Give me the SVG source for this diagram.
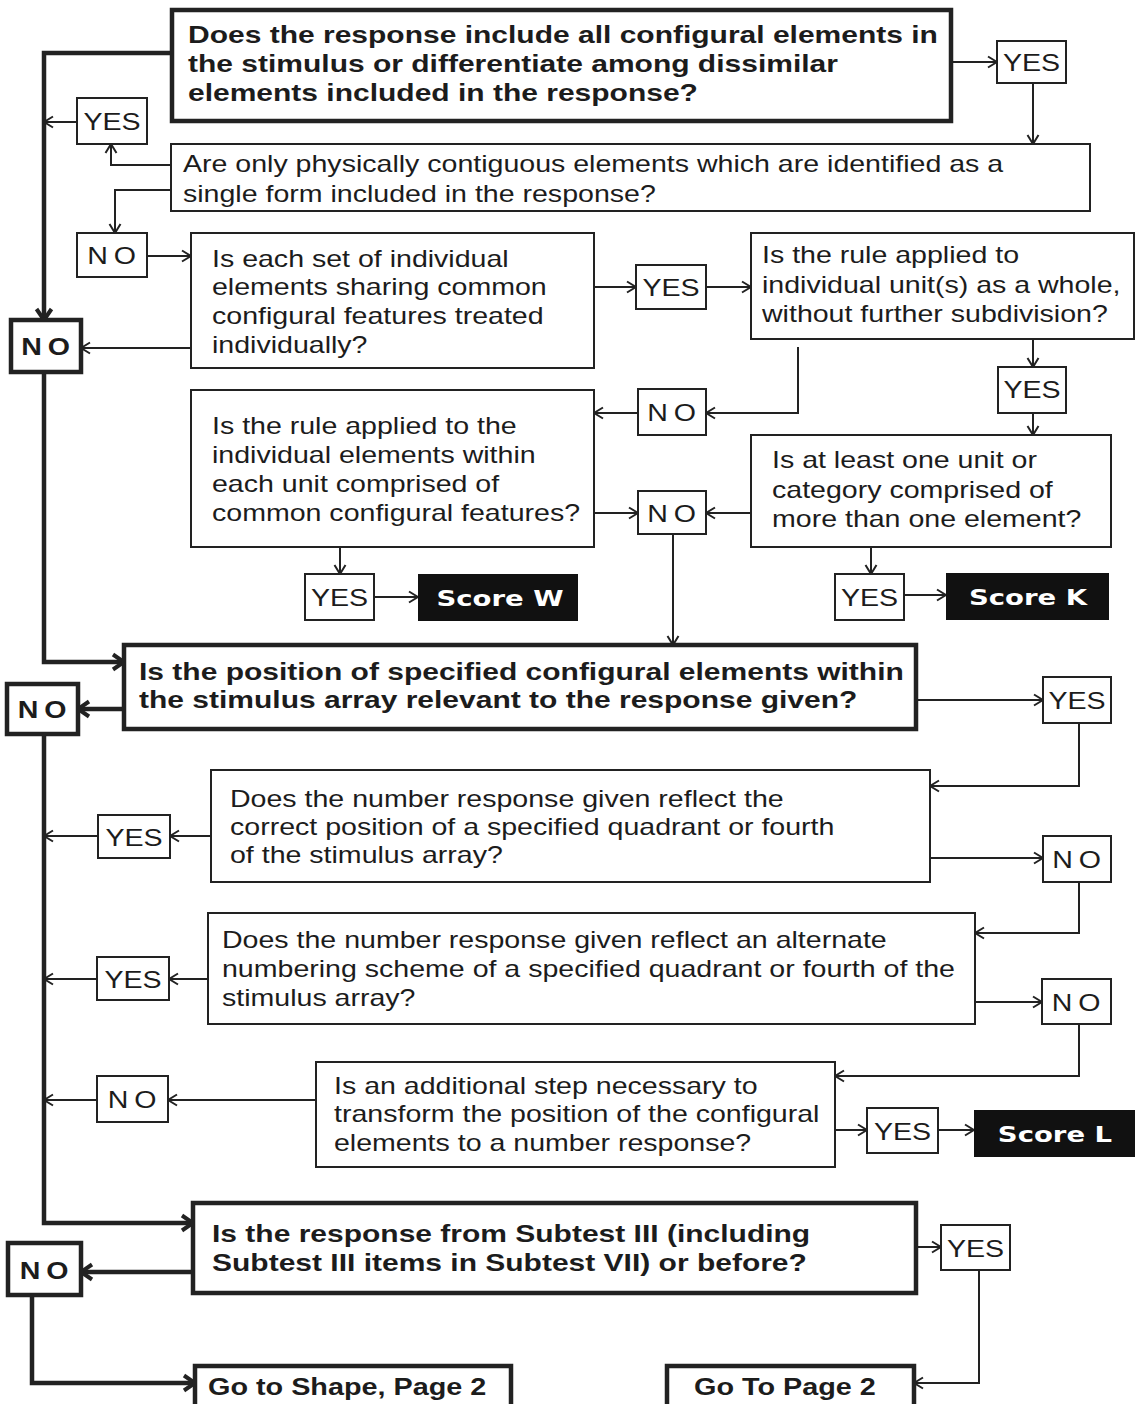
<svg xmlns="http://www.w3.org/2000/svg" width="1138" height="1404" viewBox="0 0 1138 1404">
  <style>
    .bg { fill: #ffffff; }
    .box { fill: #ffffff; stroke: #222; stroke-width: 2; }
    .boxb { fill: #ffffff; stroke: #222; stroke-width: 4.5; }
    .score { fill: #111; stroke: none; }
    .q { font-family: "Liberation Sans", Arial, Helvetica, sans-serif; font-size: 24px; fill: #1c1c1c; }
    .qb { font-family: "Liberation Sans", Arial, Helvetica, sans-serif; font-size: 24px; font-weight: bold; fill: #1c1c1c; }
    .lbl { font-family: "Liberation Sans", Arial, Helvetica, sans-serif; font-size: 24px; fill: #1c1c1c; text-anchor: middle; }
    .lblb { font-family: "Liberation Sans", Arial, Helvetica, sans-serif; font-size: 24px; font-weight: bold; fill: #1c1c1c; text-anchor: middle; }
    .st { font-family: "DejaVu Sans", "Liberation Sans", sans-serif; font-size: 22px; font-weight: bold; fill: #ffffff; text-anchor: middle; }
    .c { fill: none; stroke: #222; stroke-width: 2; marker-end: url(#ah); }
    .cb { fill: none; stroke: #222; stroke-width: 4.5; marker-end: url(#ahb); }
  </style>
  <defs>
    <marker id="ah" viewBox="0 0 12 14" refX="11" refY="7" markerWidth="12" markerHeight="14" markerUnits="userSpaceOnUse" orient="auto">
      <path d="M2,1.5 L11,7 L2,12.5" fill="none" stroke="#222" stroke-width="2"/>
    </marker>
    <marker id="ahb" viewBox="0 0 16 20" refX="14" refY="10" markerWidth="16" markerHeight="20" markerUnits="userSpaceOnUse" orient="auto">
      <path d="M3,2.5 L14,10 L3,17.5" fill="none" stroke="#222" stroke-width="4"/>
    </marker>
  </defs>

  <rect class="bg" x="0" y="0" width="1138" height="1404"/>

  <!-- connectors -->
  <g id="connectors">
    <path class="cb" d="M172,53 H44 V320"/>
    <path class="c" d="M951,62 H997"/>
    <path class="c" d="M1033,83 V144"/>
    <path class="c" d="M171,165 H111 V144"/>
    <path class="c" d="M77,122 H44"/>
    <path class="c" d="M171,190 H115 V233"/>
    <path class="c" d="M147,256 H191"/>
    <path class="c" d="M191,348 H81"/>
    <path class="c" d="M594,287 H636"/>
    <path class="c" d="M706,287 H751"/>
    <path class="c" d="M1033,339 V367"/>
    <path class="c" d="M1033,413 V435"/>
    <path class="c" d="M798,347 V413 H706"/>
    <path class="c" d="M638,413 H594"/>
    <path class="c" d="M594,513 H638"/>
    <path class="c" d="M751,513 H706"/>
    <path class="c" d="M673,534 V645"/>
    <path class="c" d="M340,547 V574"/>
    <path class="c" d="M374,597 H418"/>
    <path class="c" d="M871,547 V574"/>
    <path class="c" d="M904,595 H946"/>
    <path class="cb" d="M44,372 V662 H124"/>
    <path class="cb" d="M124,709 H78"/>
    <path class="c" d="M916,700 H1043"/>
    <path class="c" d="M1079,723 V786 H930"/>
    <path class="c" d="M211,836 H170"/>
    <path class="c" d="M98,836 H44"/>
    <path class="c" d="M930,858 H1043"/>
    <path class="c" d="M1079,882 V933 H975"/>
    <path class="c" d="M208,979 H169"/>
    <path class="c" d="M97,979 H44"/>
    <path class="c" d="M975,1002 H1042"/>
    <path class="c" d="M1079,1024 V1076 H835"/>
    <path class="c" d="M316,1100 H168"/>
    <path class="c" d="M97,1100 H44"/>
    <path class="c" d="M835,1130 H867"/>
    <path class="c" d="M938,1130 H974"/>
    <path class="cb" d="M44,734 V1223 H193"/>
    <path class="cb" d="M193,1272 H81"/>
    <path class="c" d="M916,1247 H941"/>
    <path class="c" d="M979,1270 V1383 H914"/>
    <path class="cb" d="M32,1295 V1383 H195"/>
  </g>

  <!-- question: all configural elements -->
  <g id="q-configural">
    <rect class="boxb" x="172" y="10" width="779" height="111"/>
    <g class="qb" transform="translate(188,0) scale(1.25,1)">
      <text y="43">Does the response include all configural elements in</text>
      <text y="72">the stimulus or differentiate among dissimilar</text>
      <text y="101">elements included in the response?</text>
    </g>
  </g>
  <g id="yes-1"><rect class="box" x="997" y="41" width="69" height="42"/><text class="lbl" transform="translate(1031.5,71) scale(1.19,1)">YES</text></g>

  <g id="q-contiguous">
    <rect class="box" x="171" y="144" width="919" height="67"/>
    <g class="q" transform="translate(183,0) scale(1.19,1)">
      <text y="172">Are only physically contiguous elements which are identified as a</text>
      <text y="202">single form included in the response?</text>
    </g>
  </g>
  <g id="yes-2"><rect class="box" x="77" y="98" width="70" height="46"/><text class="lbl" transform="translate(112,130) scale(1.19,1)">YES</text></g>
  <g id="no-2"><rect class="box" x="77" y="233" width="70" height="44"/><text class="lbl" letter-spacing="5" transform="translate(114.5,264) scale(1.19,1)">NO</text></g>

  <g id="q-each-set">
    <rect class="box" x="191" y="233" width="403" height="135"/>
    <g class="q" transform="translate(212,0) scale(1.19,1)">
      <text y="267">Is each set of individual</text>
      <text y="295">elements sharing common</text>
      <text y="324">configural features treated</text>
      <text y="353">individually?</text>
    </g>
  </g>
  <g id="no-main-1"><rect class="boxb" x="11" y="320" width="70" height="52"/><text class="lblb" letter-spacing="5" transform="translate(48.5,355) scale(1.19,1)">NO</text></g>
  <g id="yes-3"><rect class="box" x="636" y="265" width="70" height="44"/><text class="lbl" transform="translate(671,296) scale(1.19,1)">YES</text></g>

  <g id="q-unit-whole">
    <rect class="box" x="751" y="233" width="383" height="106"/>
    <g class="q" transform="translate(762,0) scale(1.19,1)">
      <text y="263">Is the rule applied to</text>
      <text y="293">individual unit(s) as a whole,</text>
      <text y="322">without further subdivision?</text>
    </g>
  </g>
  <g id="yes-4"><rect class="box" x="998" y="367" width="68" height="46"/><text class="lbl" transform="translate(1032,398) scale(1.19,1)">YES</text></g>
  <g id="no-4"><rect class="box" x="638" y="389" width="68" height="46"/><text class="lbl" letter-spacing="5" transform="translate(674.5,421) scale(1.19,1)">NO</text></g>

  <g id="q-elements-within">
    <rect class="box" x="191" y="390" width="403" height="157"/>
    <g class="q" transform="translate(212,0) scale(1.19,1)">
      <text y="434">Is the rule applied to the</text>
      <text y="463">individual elements within</text>
      <text y="492">each unit comprised of</text>
      <text y="521">common configural features?</text>
    </g>
  </g>

  <g id="q-one-unit">
    <rect class="box" x="751" y="435" width="360" height="112"/>
    <g class="q" transform="translate(772,0) scale(1.19,1)">
      <text y="468">Is at least one unit or</text>
      <text y="498">category comprised of</text>
      <text y="527">more than one element?</text>
    </g>
  </g>
  <g id="no-5"><rect class="box" x="638" y="491" width="68" height="43"/><text class="lbl" letter-spacing="5" transform="translate(674.5,522) scale(1.19,1)">NO</text></g>

  <g id="yes-6"><rect class="box" x="305" y="574" width="69" height="46"/><text class="lbl" transform="translate(339.5,606) scale(1.19,1)">YES</text></g>
  <g id="score-w"><rect class="score" x="418" y="574" width="160" height="47"/><text class="st" transform="translate(500,606) scale(1.25,1)">Score W</text></g>
  <g id="yes-5"><rect class="box" x="835" y="574" width="69" height="46"/><text class="lbl" transform="translate(869.5,606) scale(1.19,1)">YES</text></g>
  <g id="score-k"><rect class="score" x="946" y="573" width="163" height="47"/><text class="st" transform="translate(1028,605) scale(1.25,1)">Score K</text></g>

  <!-- question: position relevance -->
  <g id="q-position">
    <rect class="boxb" x="124" y="645" width="792" height="84"/>
    <g class="qb" transform="translate(139,0) scale(1.25,1)">
      <text y="680">Is the position of specified configural elements within</text>
      <text y="708">the stimulus array relevant to the response given?</text>
    </g>
  </g>
  <g id="no-main-2"><rect class="boxb" x="7" y="684" width="71" height="50"/><text class="lblb" letter-spacing="5" transform="translate(45,718) scale(1.19,1)">NO</text></g>
  <g id="yes-7"><rect class="box" x="1043" y="677" width="68" height="46"/><text class="lbl" transform="translate(1077,709) scale(1.19,1)">YES</text></g>

  <g id="q-correct-position">
    <rect class="box" x="211" y="770" width="719" height="112"/>
    <g class="q" transform="translate(230,0) scale(1.19,1)">
      <text y="807">Does the number response given reflect the</text>
      <text y="835">correct position of a specified quadrant or fourth</text>
      <text y="863">of the stimulus array?</text>
    </g>
  </g>
  <g id="yes-8"><rect class="box" x="98" y="815" width="72" height="43"/><text class="lbl" transform="translate(134,846) scale(1.19,1)">YES</text></g>
  <g id="no-8"><rect class="box" x="1043" y="836" width="68" height="46"/><text class="lbl" letter-spacing="5" transform="translate(1079.5,868) scale(1.19,1)">NO</text></g>

  <g id="q-alternate">
    <rect class="box" x="208" y="913" width="767" height="111"/>
    <g class="q" transform="translate(222,0) scale(1.19,1)">
      <text y="948">Does the number response given reflect an alternate</text>
      <text y="977">numbering scheme of a specified quadrant or fourth of the</text>
      <text y="1006">stimulus array?</text>
    </g>
  </g>
  <g id="yes-9"><rect class="box" x="97" y="957" width="72" height="43"/><text class="lbl" transform="translate(133,988) scale(1.19,1)">YES</text></g>
  <g id="no-9"><rect class="box" x="1042" y="979" width="69" height="45"/><text class="lbl" letter-spacing="5" transform="translate(1079,1011) scale(1.19,1)">NO</text></g>

  <g id="q-additional-step">
    <rect class="box" x="316" y="1062" width="519" height="105"/>
    <g class="q" transform="translate(334,0) scale(1.19,1)">
      <text y="1094">Is an additional step necessary to</text>
      <text y="1122">transform the position of the configural</text>
      <text y="1151">elements to a number response?</text>
    </g>
  </g>
  <g id="no-10"><rect class="box" x="97" y="1076" width="71" height="46"/><text class="lbl" letter-spacing="5" transform="translate(135,1108) scale(1.19,1)">NO</text></g>
  <g id="yes-10"><rect class="box" x="867" y="1108" width="71" height="45"/><text class="lbl" transform="translate(902.5,1140) scale(1.19,1)">YES</text></g>
  <g id="score-l"><rect class="score" x="974" y="1110" width="161" height="47"/><text class="st" transform="translate(1055,1142) scale(1.25,1)">Score L</text></g>

  <!-- question: subtest -->
  <g id="q-subtest">
    <rect class="boxb" x="193" y="1203" width="723" height="90"/>
    <g class="qb" transform="translate(212,0) scale(1.25,1)">
      <text y="1242">Is the response from Subtest III (including</text>
      <text y="1271">Subtest III items in Subtest VII) or before?</text>
    </g>
  </g>
  <g id="no-main-3"><rect class="boxb" x="8" y="1243" width="73" height="52"/><text class="lblb" letter-spacing="5" transform="translate(47,1279) scale(1.19,1)">NO</text></g>
  <g id="yes-11"><rect class="box" x="941" y="1225" width="69" height="45"/><text class="lbl" transform="translate(975.5,1257) scale(1.19,1)">YES</text></g>

  <g id="go-shape">
    <rect class="boxb" x="195" y="1366" width="316" height="50"/>
    <text class="qb" transform="translate(208,1395) scale(1.2,1)">Go to Shape, Page 2</text>
  </g>
  <g id="go-page-2">
    <rect class="boxb" x="667" y="1366" width="247" height="50"/>
    <text class="qb" transform="translate(694,1395) scale(1.2,1)">Go To Page 2</text>
  </g>
</svg>
